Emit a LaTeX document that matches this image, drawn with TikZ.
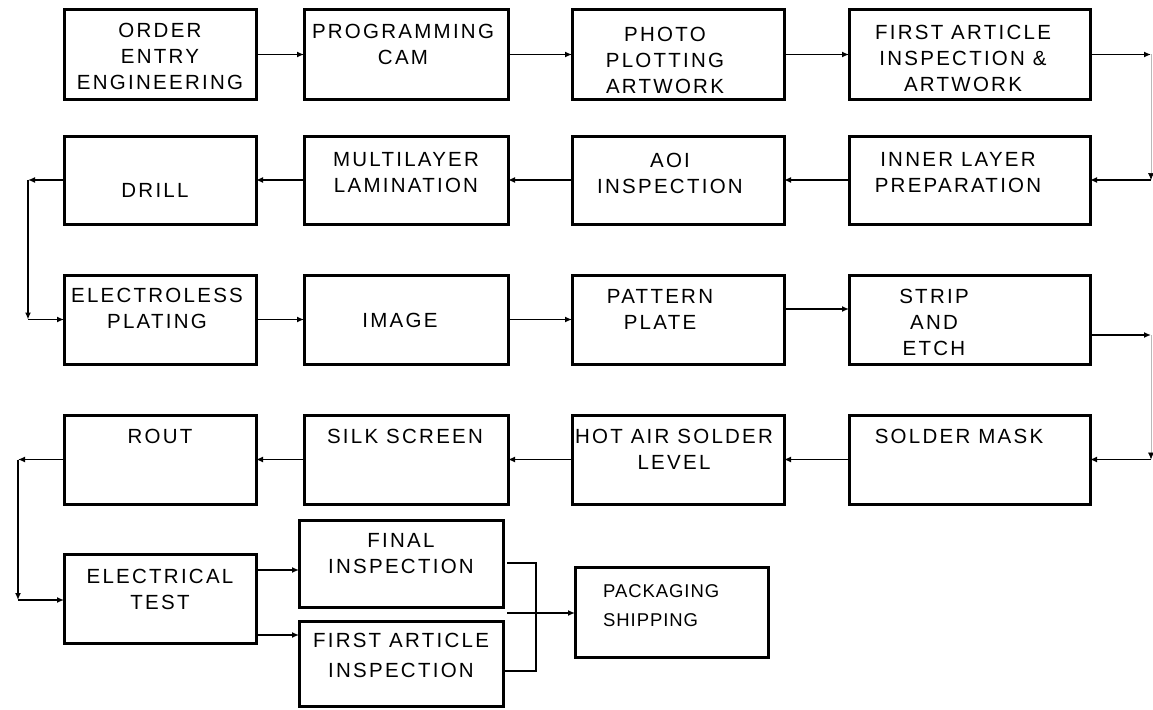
\documentclass[tikz,border=0pt]{standalone}
\usepackage{fontspec}
\setmainfont{Liberation Sans}
\newfontfamily\boxfont[LetterSpace=11]{Liberation Sans}
\newfontfamily\pkfont[LetterSpace=5]{Liberation Sans}
\usetikzlibrary{arrows.meta}
\tikzset{
  box/.style={draw, line width=3pt, inner sep=0pt, outer sep=0pt},
  txt/.style={font=\boxfont\fontsize{20.5}{26}\selectfont, align=center, inner sep=0pt},
  pktxt/.style={font=\pkfont\fontsize{18.5}{29}\selectfont, align=left, inner sep=0pt, anchor=west},
  conn/.style={line width=1.5pt, -{Latex[length=7pt,width=6pt]}},
  link/.style={line width=1.5pt},
  faint/.style={line width=0.7pt, draw=gray!55, -{Latex[length=7pt,width=6pt,color=black]}}
}
\begin{document}
\begin{tikzpicture}[x=1pt,y=-1pt]
\fill[white] (0,0) rectangle (1153,709);
\useasboundingbox (0,0) rectangle (1153,709);

% boxes
\node[box, minimum width=192pt, minimum height=89pt] (b11) at (160,54.5) {};
\node[box, minimum width=204pt, minimum height=89pt] (b12) at (406,54.5) {};
\node[box, minimum width=212pt, minimum height=89pt] (b13) at (678,54.5) {};
\node[box, minimum width=241pt, minimum height=89pt] (b14) at (969.5,54.5) {};

\node[box, minimum width=192pt, minimum height=88pt] (b21) at (160,180) {};
\node[box, minimum width=204pt, minimum height=88pt] (b22) at (406,180) {};
\node[box, minimum width=212pt, minimum height=88pt] (b23) at (678,180) {};
\node[box, minimum width=241pt, minimum height=88pt] (b24) at (969.5,180) {};

\node[box, minimum width=192pt, minimum height=89pt] (b31) at (160,319.5) {};
\node[box, minimum width=204pt, minimum height=89pt] (b32) at (406,319.5) {};
\node[box, minimum width=212pt, minimum height=89pt] (b33) at (678,319.5) {};
\node[box, minimum width=241pt, minimum height=89pt] (b34) at (969.5,319.5) {};

\node[box, minimum width=192pt, minimum height=89pt] (b41) at (160,459.5) {};
\node[box, minimum width=204pt, minimum height=89pt] (b42) at (406,459.5) {};
\node[box, minimum width=212pt, minimum height=89pt] (b43) at (678,459.5) {};
\node[box, minimum width=241pt, minimum height=89pt] (b44) at (969.5,459.5) {};

\node[box, minimum width=192pt, minimum height=89pt] (b51) at (160,598.5) {};
\node[box, minimum width=204pt, minimum height=87pt] (fi) at (401,563.5) {};
\node[box, minimum width=204pt, minimum height=85pt] (fa) at (401,663.5) {};
\node[box, minimum width=193pt, minimum height=90pt] (pk) at (671.5,612) {};

% texts
\node[txt] (t11) at (160,56) {ORDER\\ENTRY\\ENGINEERING};
\node[txt] (t12) at (403,44) {PROGRAMMING\\CAM};
\node[txt] (t13) at (665,60) {PHOTO\\PLOTTING\\ARTWORK};
\node[txt] (t14) at (963,58) {FIRST ARTICLE\\INSPECTION \&\\ARTWORK};
\node[txt] (t21) at (155,190) {DRILL};
\node[txt] (t22) at (406,173) {MULTILAYER\\LAMINATION};
\node[txt] (t23) at (670,173) {AOI\\INSPECTION};
\node[txt] (t24) at (958,173) {INNER LAYER\\PREPARATION};
\node[txt] (t31) at (157,308) {ELECTROLESS\\PLATING};
\node[txt] (t32) at (400,320) {IMAGE};
\node[txt] (t33) at (660,309) {PATTERN\\PLATE};
\node[txt] (t34) at (934,322) {STRIP\\AND\\ETCH};
\node[txt] (t41) at (160,436) {ROUT};
\node[txt] (t42) at (405,436) {SILK SCREEN};
\node[txt] (t43) at (674,449) {HOT AIR SOLDER\\LEVEL};
\node[txt] (t44) at (959,436) {SOLDER MASK};
\node[txt] (t51) at (160,589) {ELECTRICAL\\TEST};
\node[txt] (tfi) at (401,554) {FINAL\\INSPECTION};
\node[txt, font=\boxfont\fontsize{20.5}{30}\selectfont] (tfa) at (401,655) {FIRST ARTICLE\\INSPECTION};
\node[pktxt] (tpk) at (603,605.5) {PACKAGING\\SHIPPING};

% row connectors
\draw[conn] (b11.east) -- (b12.west);
\draw[conn] (b12.east) -- (b13.west);
\draw[conn] (b13.east) -- (b14.west);

\draw[conn] (b24.west) -- (b23.east);
\draw[conn] (b23.west) -- (b22.east);
\draw[conn] (b22.west) -- (b21.east);

\draw[conn] (b31.east) -- (b32.west);
\draw[conn] (b32.east) -- (b33.west);
\draw[conn] ([yshift=10.5pt]b33.east) -- ([yshift=10.5pt]b34.west);

\draw[conn] (b44.west) -- (b43.east);
\draw[conn] (b43.west) -- (b42.east);
\draw[conn] (b42.west) -- (b41.east);

% right turns
\coordinate (r1) at (1151,54.5);
\coordinate (r2) at (1151,180);
\draw[conn] (b14.east) -- (r1);
\draw[faint] (r1) -- (r2);
\draw[conn] (r2) -- (b24.east);

\coordinate (r3) at (1151,335);
\coordinate (r4) at (1151,459.5);
\draw[conn] ([yshift=-15.5pt]b34.east) -- (r3);
\draw[faint] (r3) -- (r4);
\draw[conn] (r4) -- (b44.east);

% left turns
\coordinate (l1) at (28,180);
\coordinate (l2) at (28,319.5);
\draw[conn] (b21.west) -- (l1);
\draw[conn] (l1) -- (l2);
\draw[conn] (l2) -- (b31.west);

\coordinate (l3) at (18,459.5);
\coordinate (l4) at (18,600);
\draw[conn] (b41.west) -- (l3);
\draw[conn] (l3) -- (l4);
\draw[conn] (l4) -- (l4 -| b51.west);

% bottom part
\draw[conn] (b51.east |- 0,570) -- (fi.west |- 0,570);
\draw[conn] (b51.east |- 0,635) -- (fa.west |- 0,635);
\coordinate (fb1) at (507,563);
\coordinate (fb2) at (536,671);
\draw[link] (fb1) -| (fb2) -- (fa.east |- fb2);
\coordinate (pa) at (507,613);
\draw[conn] (pa) -- (pa -| pk.west);
\end{tikzpicture}
\end{document}
